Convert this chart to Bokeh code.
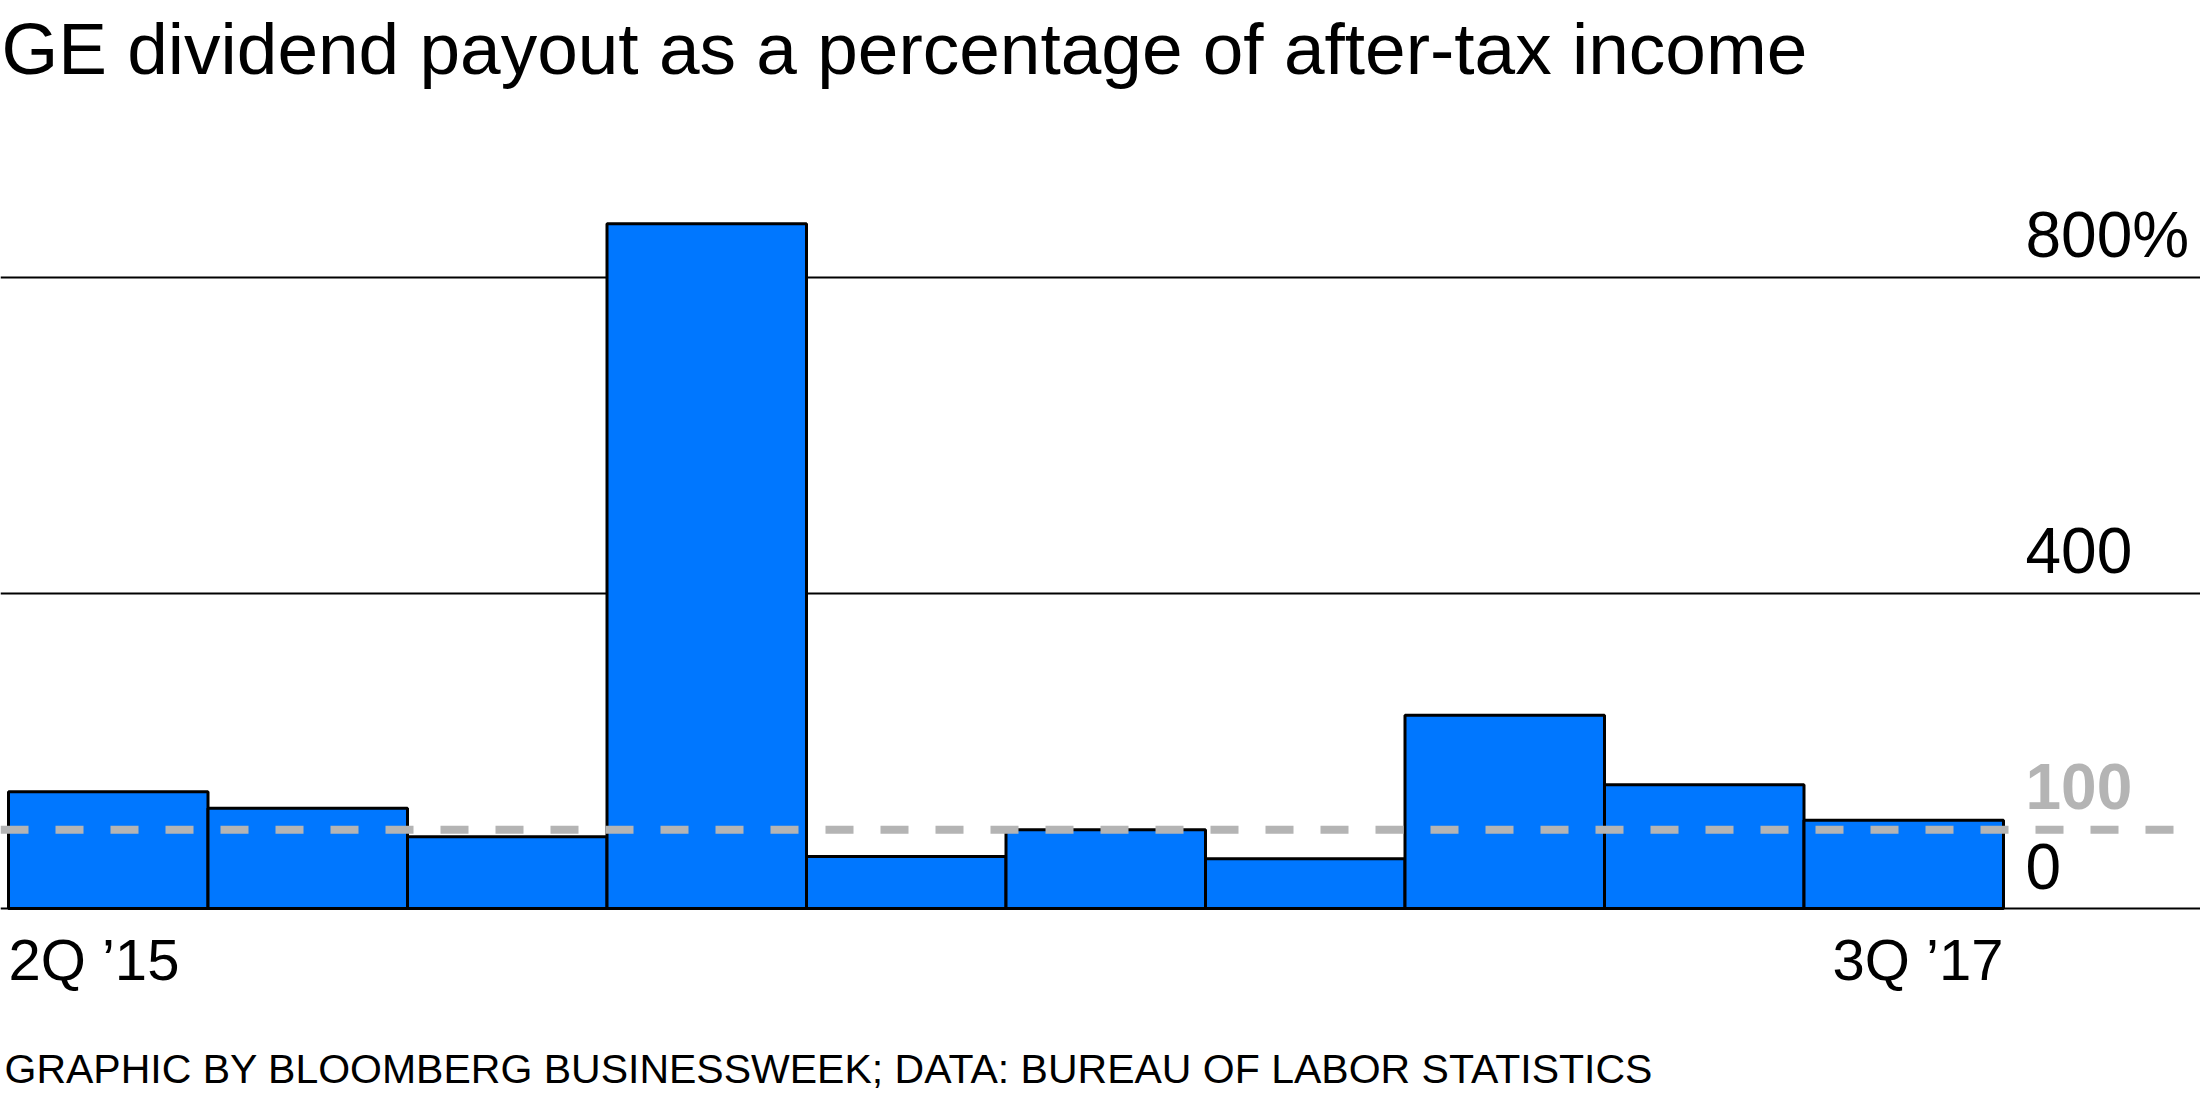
from bokeh.plotting import figure
from bokeh.models import Range1d, Span, ColumnDataSource, Grid, FixedTicker
from bokeh.core.properties import value
from bokeh.embed import file_html
from bokeh.resources import INLINE

# ---- data ----
quarters = ["2Q \u201915", "3Q \u201915", "4Q \u201915", "1Q \u201916", "2Q \u201916",
            "3Q \u201916", "4Q \u201916", "1Q \u201917", "2Q \u201917", "3Q \u201917"]
payout_pct = [148, 127, 91, 868, 66, 100, 63, 245, 157, 112]
grid_ticks = [0, 400, 800]
tick_values = [800, 400, 0]
tick_labels = ["800%", "400", "0"]
reference_level = [100]
reference_labels = ["100"]
title_text = "GE dividend payout as a percentage of after-tax income"
source_text = "GRAPHIC BY BLOOMBERG BUSINESSWEEK; DATA: BUREAU OF LABOR STATISTICS"

FONT = "Liberation Sans"
BLUE = "#0077ff"
GRAY = "#b4b4b4"
W, H = 2200, 1100

# ---- layout (pixels) ----
BAR_W = 199.5          # pixel width of one quarter
X0 = 8                 # pixel where first bar starts
Y0 = 908               # pixel of the zero baseline
K = 631 / 800.0        # pixels per percentage point
SHIFT = 0.35           # baseline correction (fraction of font size)


def dx(px):
    return (px - X0) / BAR_W


def dy(py):
    return (Y0 - py) / K


n = len(quarters)
src = ColumnDataSource(dict(
    left=list(range(n)),
    right=[i + 1 for i in range(n)],
    top=payout_pct,
    bottom=[0] * n,
    q=quarters,
))

p = figure(width=W, height=H, output_backend="svg", toolbar_location=None,
           x_range=Range1d(dx(0), dx(W)), y_range=Range1d(dy(H), dy(0)),
           x_axis_location=None, y_axis_location=None,
           min_border=0, min_border_top=0, min_border_bottom=0,
           min_border_left=0, min_border_right=0)
p.outline_line_color = None
p.background_fill_color = "white"
p.border_fill_color = "white"

for g in list(p.grid):
    g.visible = False
grid = Grid(dimension=1, ticker=FixedTicker(ticks=grid_ticks),
            grid_line_color="black", grid_line_width=2)
p.add_layout(grid, "center")

p.quad(left="left", right="right", top="top", bottom="bottom", source=src,
       fill_color=BLUE, line_color="black", line_width=3)

p.add_layout(Span(location=reference_level[0], dimension="width", line_color=GRAY,
                  line_width=8, line_dash="28 27", level="overlay"))

# value labels on the right
TICK_F = 64
lab_x = dx(2025)
p.text(x=[lab_x] * len(tick_values), y=tick_values, text=tick_labels,
       text_font=value(FONT), text_font_size=f"{TICK_F}px", text_color="black",
       text_baseline="alphabetic", text_align="left", y_offset=-20 - SHIFT * TICK_F)
p.text(x=[lab_x], y=reference_level, text=reference_labels,
       text_font=value(FONT), text_font_size=f"{TICK_F}px", text_color=GRAY,
       text_font_style="bold",
       text_baseline="alphabetic", text_align="left", y_offset=-21 - SHIFT * TICK_F)

# first / last quarter labels
Q_F = 58
p.text(x=[0], y=[0], text=[quarters[0]], text_font=value(FONT), text_font_size=f"{Q_F}px",
       text_color="black", text_baseline="alphabetic", text_align="left",
       y_offset=(979 - Y0) - SHIFT * Q_F)
p.text(x=[n], y=[0], text=[quarters[-1]], text_font=value(FONT), text_font_size=f"{Q_F}px",
       text_color="black", text_baseline="alphabetic", text_align="right",
       y_offset=(979 - Y0) - SHIFT * Q_F)

# title and source
T_F = 73
p.text(x=[dx(1)], y=[dy(74 - SHIFT * T_F)], text=[title_text], text_font=value(FONT),
       text_font_size=f"{T_F}px", text_color="black", text_baseline="alphabetic",
       text_align="left")
S_F = 41
p.text(x=[dx(4)], y=[dy(1083 - SHIFT * S_F)], text=[source_text], text_font=value(FONT),
       text_font_size=f"{S_F}px", text_color="black", text_baseline="alphabetic",
       text_align="left")

open("out.html", "w").write(file_html(p, INLINE))
